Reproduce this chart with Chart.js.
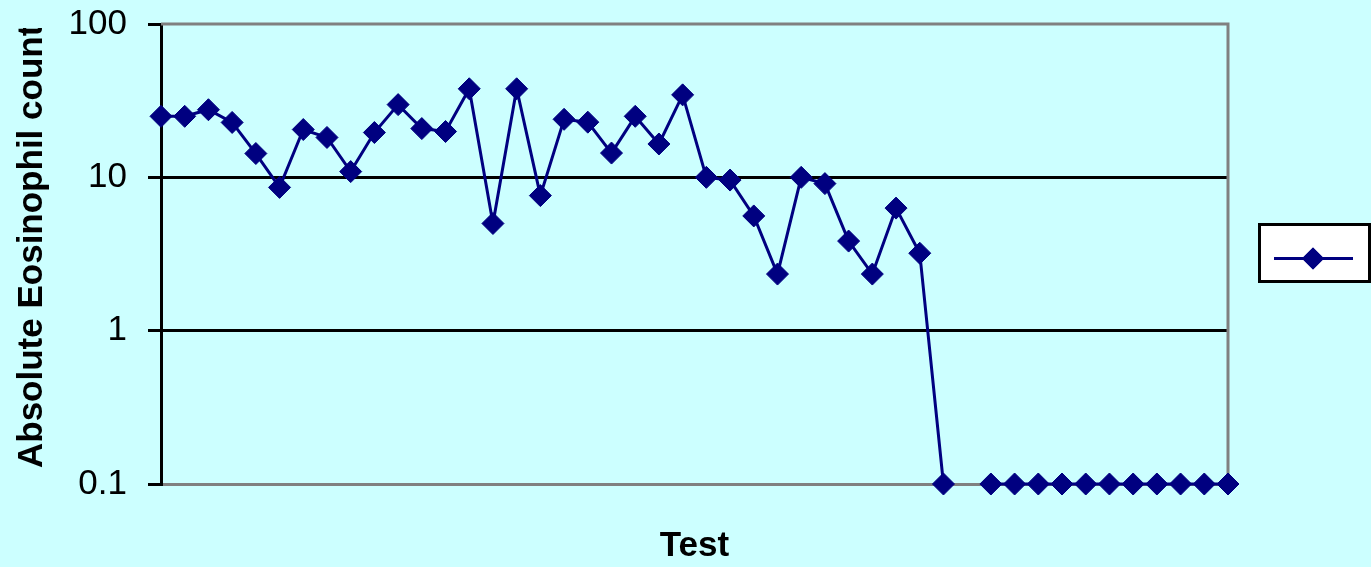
<!DOCTYPE html>
<html>
<head>
<meta charset="utf-8">
<script src="https://cdn.jsdelivr.net/npm/chart.js@4/dist/chart.umd.min.js"></script>
<style>
  html, body { margin: 0; padding: 0; background: #ccffff; }
  #wrap { width: 1371px; height: 567px; }
</style>
</head>
<body>
<div id="wrap"><canvas id="eosChart" width="1371" height="567"></canvas></div>
<script>
const testLabels = ['1','2','3','4','5','6','7','8','9','10','11','12','13','14','15','16',
  '17','18','19','20','21','22','23','24','25','26','27','28','29','30','31','32','33','34',
  '35','36','37','38','39','40','41','42','43','44','45','46'];
const eosinophilCounts = [25, 25, 27.6, 22.8, 14.3, 8.6, 20.5, 18.2, 10.9, 19.6, 29.8, 20.8,
  19.9, 37.8, 5.0, 37.8, 7.6, 23.9, 22.9, 14.4, 25, 16.5, 34.5, 10, 9.6, 5.6, 2.34, 10, 9.1,
  3.84, 2.34, 6.3, 3.2, 0.1, null, 0.1, 0.1, 0.1, 0.1, 0.1, 0.1, 0.1, 0.1, 0.1, 0.1, 0.1];
const yTicks = [0.1, 1, 10, 100];
const yTitle = 'Absolute Eosinophil count';
const xTitle = 'Test';

const navy = '#000080';

// background + top/right frame of the plot area
const framePlugin = {
  id: 'frame',
  beforeDraw: chart => {
    const ctx = chart.ctx;
    ctx.save();
    ctx.fillStyle = '#ccffff';
    ctx.fillRect(0, 0, chart.width, chart.height);
    ctx.restore();
  },
  beforeDatasetsDraw: chart => {
    const {ctx, chartArea: a} = chart;
    ctx.save();
    ctx.strokeStyle = '#808080';
    ctx.lineWidth = 3;
    ctx.beginPath();
    ctx.moveTo(a.left, a.top);
    ctx.lineTo(a.right, a.top);
    ctx.lineTo(a.right, a.bottom);
    ctx.stroke();
    ctx.restore();
  }
};

// rotated y title, cut off at the top like the original
const yTitlePlugin = {
  id: 'yTitle',
  afterDraw: chart => {
    const ctx = chart.ctx;
    ctx.save();
    ctx.beginPath();
    ctx.rect(0, 28, 120, chart.height);
    ctx.clip();
    ctx.translate(42, 468);
    ctx.rotate(-Math.PI / 2);
    ctx.font = 'bold 35px "Liberation Sans", Arial, sans-serif';
    ctx.fillStyle = '#000';
    ctx.textAlign = 'left';
    ctx.textBaseline = 'alphabetic';
    ctx.fillText(yTitle, 0, 0);
    ctx.restore();
  }
};

// legend box with line + diamond, no text
const legendPlugin = {
  id: 'legendBox',
  afterDraw: chart => {
    const ctx = chart.ctx;
    const ds = chart.data.datasets[0];
    ctx.save();
    ctx.fillStyle = '#fff';
    ctx.fillRect(1258, 223, 112, 59);
    ctx.strokeStyle = '#000';
    ctx.lineWidth = 3;
    ctx.strokeRect(1259.5, 224.5, 110, 57);
    ctx.strokeStyle = ds.borderColor;
    ctx.lineWidth = 3;
    ctx.beginPath();
    ctx.moveTo(1274, 258.5);
    ctx.lineTo(1353, 258.5);
    ctx.stroke();
    ctx.fillStyle = ds.pointBackgroundColor;
    Chart.helpers.drawPoint(ctx, {pointStyle: 'rectRot', radius: 11, borderWidth: 0}, 1313, 258.5);
    ctx.fill();
    ctx.restore();
  }
};

const eosChart = new Chart(document.getElementById('eosChart'), {
  type: 'line',
  data: {
    labels: testLabels,
    datasets: [{
      label: '',
      data: eosinophilCounts,
      borderColor: navy,
      backgroundColor: navy,
      pointBackgroundColor: navy,
      pointBorderColor: navy,
      borderWidth: 3,
      pointStyle: 'rectRot',
      pointRadius: 11,
      pointBorderWidth: 1,
      pointHoverRadius: 11,
      spanGaps: false,
      tension: 0,
      clip: false
    }]
  },
  options: {
    responsive: false,
    animation: false,
    devicePixelRatio: 1,
    layout: { padding: { left: 0, right: 143, top: 24, bottom: 0 } },
    plugins: {
      legend: { display: false },
      tooltip: { enabled: false }
    },
    scales: {
      x: {
        type: 'category',
        offset: false,
        grid: { display: false },
        border: { color: '#808080', width: 3 },
        ticks: { display: false },
        title: {
          display: true,
          text: xTitle,
          color: '#000',
          font: { family: '"Liberation Sans", Arial, sans-serif', size: 35, weight: 'bold', lineHeight: 1 },
          padding: { top: 0, bottom: 3 }
        },
        afterFit: scale => { scale.height = 83; }
      },
      y: {
        type: 'logarithmic',
        min: 0.1,
        max: 100,
        afterBuildTicks: scale => { scale.ticks = yTicks.map(v => ({ value: v })); },
        afterFit: scale => {
          scale.width = 161;
          scale.paddingTop = 0;
          scale.paddingBottom = 0;
        },
        ticks: {
          color: '#000',
          padding: 21,
          font: { family: '"Liberation Sans", Arial, sans-serif', size: 35 },
          callback: v => String(v)
        },
        grid: {
          color: c => (c.tick && (c.tick.value === 1 || c.tick.value === 10)) ? '#000' : 'rgba(0,0,0,0)',
          tickColor: '#000',
          lineWidth: 3,
          tickLength: 13,
          drawTicks: true
        },
        border: { color: '#000', width: 3 }
      }
    }
  },
  plugins: [framePlugin, yTitlePlugin, legendPlugin]
});
</script>
</body>
</html>
